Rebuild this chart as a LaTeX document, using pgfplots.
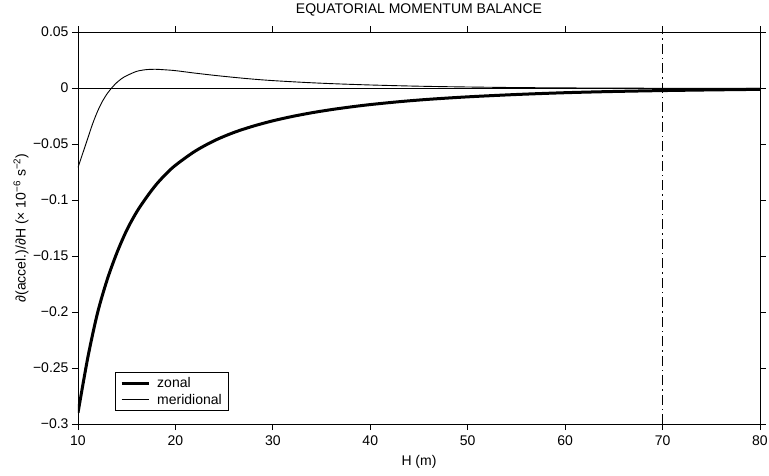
\documentclass[border=0pt]{standalone}
\usepackage{pgfplots}
\pgfplotsset{compat=1.18}
\usepackage{fontspec}
\setmainfont{Liberation Sans}
\begin{document}
\begin{tikzpicture}
\begin{axis}[
  scale only axis,
  width=682pt, height=392pt,
  xmin=10, xmax=80, ymin=-0.3, ymax=0.05,
  xtick={10,20,30,40,50,60,70,80},
  ytick={-0.3,-0.25,-0.2,-0.15,-0.1,-0.05,0,0.05},
  yticklabels={−0.3,−0.25,−0.2,−0.15,−0.1,−0.05,0,0.05},
  tick align=outside,
  major tick length=6pt,
  xtick pos=both, ytick pos=both,
  /pgf/number format/assume math mode=true,
  every tick label/.append style={font=\fontsize{14}{16}\selectfont},
  xticklabel style={yshift=-2pt},
  axis line style={line width=0.8pt},
  every tick/.style={black, line width=0.8pt},
  title={EQUATORIAL MOMENTUM BALANCE},
  title style={font=\fontsize{14}{16}\selectfont, at={(axis description cs:0.5,1.031)}, anchor=base},
  xlabel={H (m)},
  xlabel style={font=\fontsize{14}{16}\selectfont, at={(axis description cs:0.5,-0.1046)}, anchor=base},
  ylabel={∂(accel.)/∂H (× 10\textsuperscript{−6} s\textsuperscript{−2})},
  ylabel style={font=\fontsize{14}{16}\selectfont, at={(axis description cs:-0.0836,0.5)}, anchor=center, rotate=0},
  legend style={font=\fontsize{14}{16}\selectfont, at={(axis description cs:0.054,0.033)}, anchor=south west, draw=black, line width=0.8pt, inner xsep=5pt, inner ysep=3pt, row sep=1pt},
  legend cell align=left,
  legend image code/.code={\draw[#1] (0pt,0pt) -- (27pt,0pt);},
]
\addplot[black, line width=0.8pt, forget plot] coordinates {(10,0) (80,0)};
\addplot[black, line width=0.8pt, forget plot, dash pattern=on 10pt off 4pt on 1.5pt off 4pt] coordinates {(70,-0.3) (70,0.05)};
\addplot[black, line width=3pt, smooth] coordinates {
(10,-0.290) (11,-0.241) (12,-0.201) (13,-0.171) (14,-0.147) (15,-0.127)
(16,-0.111) (17,-0.098) (18,-0.0865) (19,-0.0770) (20,-0.0690) (22,-0.0565)
(24,-0.0470) (26,-0.0397) (28,-0.0340) (30,-0.0293) (32,-0.0254) (34,-0.0221)
(36,-0.0193) (38,-0.0169) (40,-0.0148) (43,-0.0122) (46,-0.0101) (50,-0.0079)
(55,-0.0058) (60,-0.0042) (65,-0.0031) (70,-0.0023) (75,-0.0017) (80,-0.0012)
};
\addlegendentry{\hspace{5pt}zonal}
\addplot[black, line width=0.9pt, smooth] coordinates {
(10,-0.071) (10.5,-0.058) (11,-0.045) (11.5,-0.032) (12,-0.021) (12.5,-0.012)
(13,-0.005) (13.5,0.0005) (14,0.005) (14.5,0.0085) (15,0.011) (16,0.0148)
(17,0.0164) (18,0.0167) (19,0.0162) (20,0.0155) (22,0.0133) (24,0.0113)
(26,0.0095) (28,0.0079) (30,0.0066) (33,0.0051) (36,0.0039) (40,0.0027)
(45,0.0016) (50,0.0009) (55,0.0004) (60,0.0001) (65,-0.0001) (70,-0.0002) (80,-0.0002)
};
\addlegendentry{\hspace{5pt}meridional\hspace{5pt}}
\end{axis}
\pgfresetboundingbox
\useasboundingbox (-78pt,-51pt) rectangle (691pt,424pt);
\end{tikzpicture}
\end{document}
